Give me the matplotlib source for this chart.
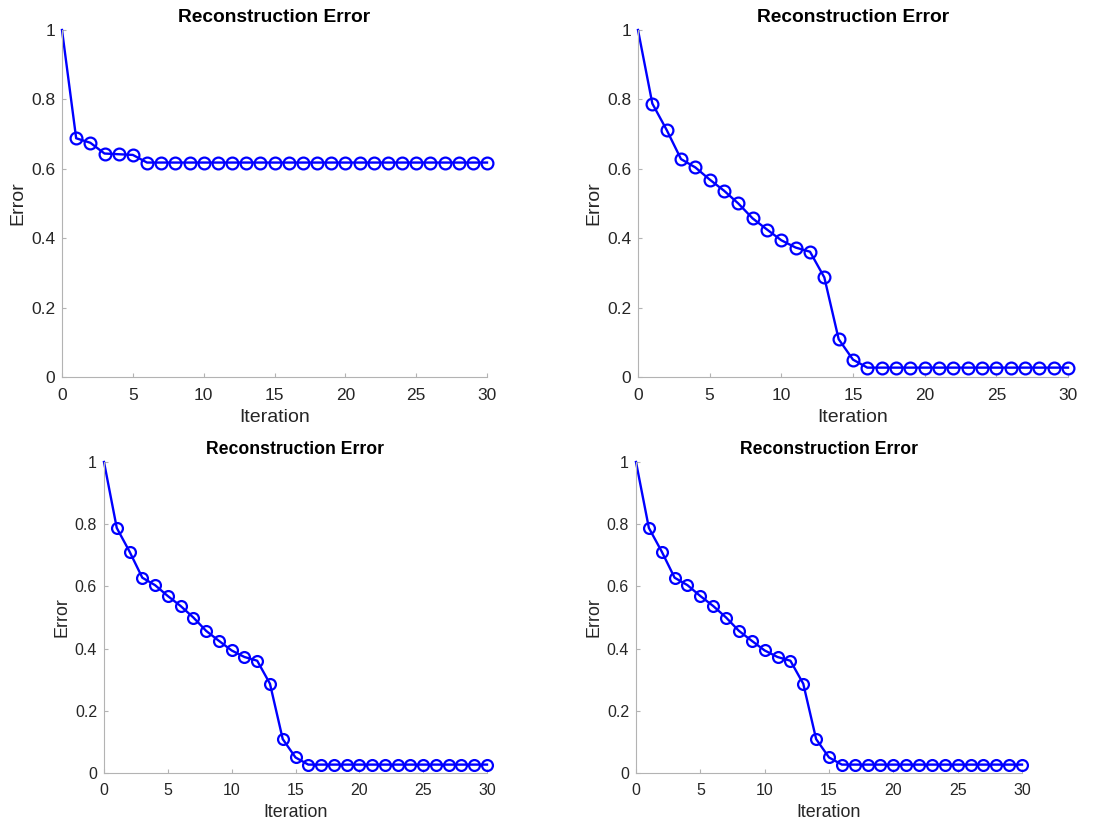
import numpy as np
import matplotlib.pyplot as plt

plt.rcParams['font.family'] = ['Liberation Sans', 'DejaVu Sans']

# iteration numbers and reconstruction errors
iterations = list(range(0, 31))

err_a = [1.0, 0.688, 0.675, 0.644, 0.642, 0.640] + [0.618] * 25
err_b = [1.0, 0.788, 0.712, 0.628, 0.604, 0.569, 0.537, 0.500, 0.457, 0.425,
         0.394, 0.373, 0.361, 0.287, 0.109, 0.050] + [0.027] * 15
err_c = list(err_b)
err_d = list(err_b)

title = 'Reconstruction Error'
xticks = [0, 5, 10, 15, 20, 25, 30]
yticks = [0, 0.2, 0.4, 0.6, 0.8, 1]
ytick_labels = ['0', '0.2', '0.4', '0.6', '0.8', '1']

W, H = 1104, 824
fig = plt.figure(figsize=(W / 100, H / 100), dpi=100)

# (left, top, right, bottom) in pixels, plus a text/marker scale
panels = [
    (err_a, (62, 30, 487, 377), 1.0),
    (err_b, (638, 30, 1068, 377), 1.0),
    (err_c, (104, 462, 487, 773), 0.92),
    (err_d, (636, 462, 1022, 773), 0.92),
]

for err, (l, t, r, b), s in panels:
    ax = fig.add_axes([l / W, 1 - b / H, (r - l) / W, (b - t) / H])
    ax.plot(iterations, err, color='#0000ff', lw=1.7, marker='o',
            markersize=8.5 * s, markerfacecolor='none', markeredgewidth=1.6,
            markevery=list(range(1, len(err))), clip_on=False)
    ax.set_xlim(0, 30)
    ax.set_ylim(0, 1)
    ax.set_xticks(xticks)
    ax.set_yticks(yticks)
    ax.set_yticklabels(ytick_labels)
    for side in ['top', 'right']:
        ax.spines[side].set_visible(False)
    for side in ['left', 'bottom']:
        ax.spines[side].set_color('#b3b3b3')
        ax.spines[side].set_linewidth(0.8)
    ax.tick_params(direction='in', length=3, width=0.8, color='#b3b3b3',
                   labelcolor='#262626', labelsize=12.5 * s)
    ax.tick_params(axis='x', pad=8 * s)
    ax.tick_params(axis='y', pad=5)
    ax.set_xlabel('Iteration', fontsize=14 * s, color='#262626', labelpad=4)
    ax.set_ylabel('Error', fontsize=14 * s, color='#262626', labelpad=3)
    ax.set_title(title, fontsize=13.8 * s, fontweight='bold', pad=6)

fig.savefig('out.png', dpi=100)
